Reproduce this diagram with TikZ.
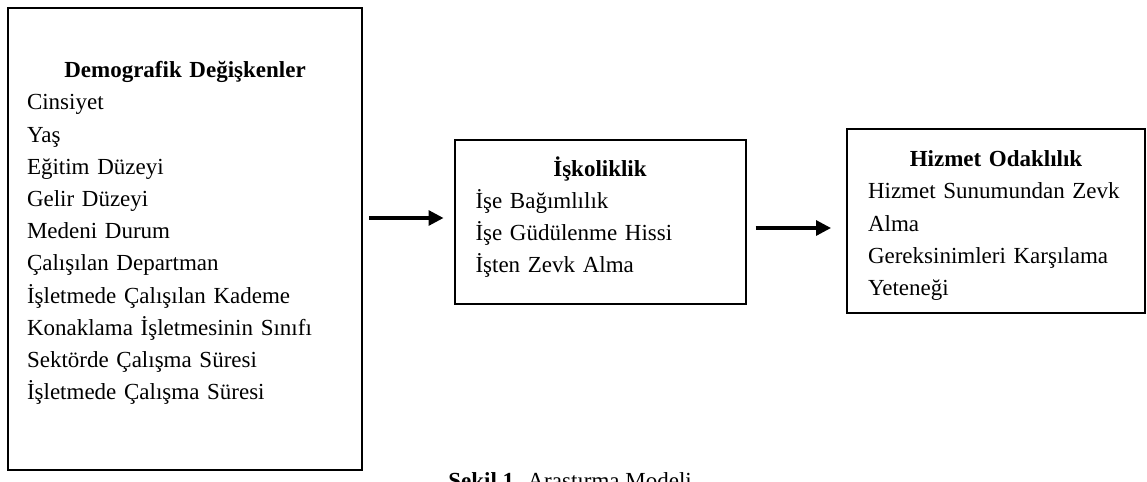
\documentclass[tikz,border=0pt]{standalone}
\usepackage{fontspec}
\setmainfont{Liberation Serif}
\usetikzlibrary{arrows.meta}
\begin{document}
\begin{tikzpicture}[x=0.5pt,y=-0.5pt,
		box/.style={draw, line width=1pt, align=left, inner xsep=10.5pt, font=\fontsize{11.5}{16.1}\selectfont},
		flow/.style={-{Triangle[length=7.5pt,width=7.5pt]}, line width=1.6pt}]
		\useasboundingbox (0,0) rectangle (1147,482);
		\node[box, inner xsep=9.5pt, minimum width=177pt, minimum height=231pt, text width=158pt] (demo) at (185,239) {\makebox[\hsize]{\textbf{Demografik Değişkenler}}\\ Cinsiyet\\ Yaş\\ Eğitim Düzeyi\\ Gelir Düzeyi\\ Medeni Durum\\ Çalışılan Departman\\ İşletmede Çalışılan Kademe\\ Konaklama İşletmesinin Sınıfı\\ Sektörde Çalışma Süresi\\ İşletmede Çalışma Süresi\rule[-8.5pt]{0pt}{0pt}};
		\node[box, minimum width=145.5pt, minimum height=82pt, text width=124.5pt] (isko) at (600,222) {\makebox[\hsize]{\textbf{İşkoliklik}}\\ İşe Bağımlılık\\ İşe Güdülenme Hissi\\ İşten Zevk Alma\rule[-7.5pt]{0pt}{0pt}};
		\node[box, minimum width=149pt, minimum height=92pt, text width=128pt] (hizmet) at (996,221) {\makebox[\hsize]{\rule{0pt}{12.5pt}\textbf{Hizmet Odaklılık}}\\ \mbox{Hizmet Sunumundan Zevk}\\ Alma\\ \mbox{Gereksinimleri Karşılama}\\ Yeteneği};
		% arrows between the boxes
		\coordinate (a1) at ([xshift=3pt,yshift=10.5pt]demo.east);
		\draw[flow, shorten >=5pt] (a1) -- (a1 -| isko.west);
		\coordinate (a2) at ([xshift=4.5pt,yshift=-3pt]isko.east);
		\draw[flow, shorten >=7.5pt] (a2) -- (a2 -| hizmet.west);
		\node[anchor=base west, inner sep=0pt, font=\fontsize{11.5}{16.1}\selectfont] (caption) at (448,488) {\textbf{Şekil 1.} Araştırma Modeli};
\end{tikzpicture}
\end{document}
